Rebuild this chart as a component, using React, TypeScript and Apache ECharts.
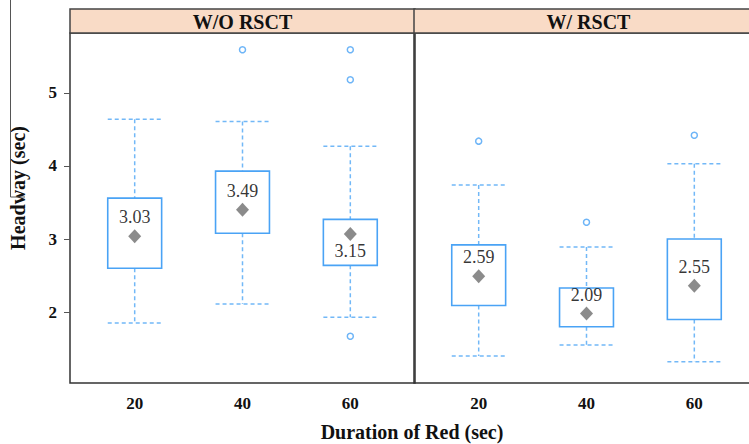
import React, { useEffect, useRef } from 'react';
import * as echarts from 'echarts';

const panels = ['W/O RSCT', 'W/ RSCT'];
const categories = ['20', '40', '60'];
const yTicks = [2, 3, 4, 5];

// W/O RSCT
const woLower = [1.85, 2.11, 1.93];
const woQ1 = [2.6, 3.08, 2.64];
const woQ3 = [3.56, 3.93, 3.27];
const woUpper = [4.64, 4.61, 4.27];
const woMean = [3.04, 3.4, 3.07];
const woMeanLabel = ['3.03', '3.49', '3.15'];
const woOutliers: [number, number][] = [[1, 5.59], [2, 5.59], [2, 5.18], [2, 1.67]];

// W/ RSCT
const wLower = [1.4, 1.55, 1.32];
const wQ1 = [2.09, 1.8, 1.9];
const wQ3 = [2.92, 2.33, 3.0];
const wUpper = [3.74, 2.89, 4.03];
const wMean = [2.49, 1.98, 2.36];
const wMeanLabel = ['2.59', '2.09', '2.55'];
const wOutliers: [number, number][] = [[0, 4.34], [1, 3.23], [2, 4.42]];

const panelData = [
  { lower: woLower, q1: woQ1, q3: woQ3, upper: woUpper, mean: woMean, label: woMeanLabel, outliers: woOutliers, below: [false, false, true] },
  { lower: wLower, q1: wQ1, q3: wQ3, upper: wUpper, mean: wMean, label: wMeanLabel, outliers: wOutliers, below: [false, false, false] },
];

const BOX = '#4aa3f5';
const WHISK = '#72b8f7';
const SERIF = '"Liberation Serif", "Times New Roman", serif';

export default function App() {
  const ref = useRef<HTMLDivElement>(null);
  useEffect(() => {
    if (!ref.current) return;
    const chart = echarts.init(ref.current, undefined, { renderer: 'svg' });
    const gridLefts = [70, 414];
    const panelW = 345;
    const top = 33;
    const plotH = 350;

    const grids = gridLefts.map((l) => ({
      left: l, top, width: panelW, height: plotH,
      outerBoundsMode: 'none', containLabel: false,
      show: true, borderColor: '#333', borderWidth: 1.5, backgroundColor: 'transparent',
    }));

    const xAxes = gridLefts.map((_, i) => ({
      type: 'value', gridIndex: i, min: 0.4, max: 3.6,
      splitLine: { show: false }, axisLine: { show: false }, axisTick: { show: false },
      axisLabel: {
        customValues: [1, 2, 3],
        formatter: (v: number) => categories[Math.round(v) - 1] ?? '',
        fontFamily: SERIF, fontWeight: 'bold', fontSize: 17, color: '#111', margin: 12,
      },
    }));

    const yAxes = gridLefts.map((_, i) => ({
      type: 'value', gridIndex: i, min: 1.03, max: 5.82,
      splitLine: { show: false }, axisLine: { show: false },
      axisTick: { show: i === 0, customValues: yTicks, length: 6, lineStyle: { color: '#555', width: 1 } },
      axisLabel: {
        show: i === 0, customValues: yTicks,
        fontFamily: SERIF, fontWeight: 'bold', fontSize: 17, color: '#111', margin: 13,
      },
    }));

    const series: any[] = [];
    panelData.forEach((p, i) => {
      series.push({
        type: 'custom', xAxisIndex: i, yAxisIndex: i,
        encode: { x: 0, y: [1, 2, 3, 4] },
        data: categories.map((_, k) => [k + 1, p.lower[k], p.q1[k], p.q3[k], p.upper[k]]),
        renderItem: (_params: any, api: any) => {
          const x = api.value(0);
          const lo = api.coord([x, api.value(1)]);
          const q1 = api.coord([x, api.value(2)]);
          const q3 = api.coord([x, api.value(3)]);
          const hi = api.coord([x, api.value(4)]);
          const w = api.size([0.5, 0])[0];
          const h = w / 2;
          const cx = lo[0];
          const dash = { stroke: WHISK, lineWidth: 1.5, lineDash: [4, 3], fill: null };
          return {
            type: 'group',
            children: [
              { type: 'line', shape: { x1: cx, y1: hi[1], x2: cx, y2: q3[1] }, style: dash },
              { type: 'line', shape: { x1: cx, y1: q1[1], x2: cx, y2: lo[1] }, style: dash },
              { type: 'line', shape: { x1: cx - h, y1: hi[1], x2: cx + h, y2: hi[1] }, style: dash },
              { type: 'line', shape: { x1: cx - h, y1: lo[1], x2: cx + h, y2: lo[1] }, style: dash },
              { type: 'rect', shape: { x: cx - h, y: q3[1], width: w, height: q1[1] - q3[1] }, style: { fill: 'none', stroke: BOX, lineWidth: 1.6 } },
            ],
          };
        },
        z: 2,
      });
      series.push({
        type: 'scatter', xAxisIndex: i, yAxisIndex: i,
        symbol: 'circle', symbolSize: 6,
        itemStyle: { color: '#fff', borderColor: BOX, borderWidth: 1.5 },
        data: p.outliers.map(([k, v]) => [k + 1, v]),
        z: 3,
      });
      series.push({
        type: 'scatter', xAxisIndex: i, yAxisIndex: i,
        symbol: 'diamond', symbolSize: [13, 14],
        itemStyle: { color: '#6e6e6e' },
        label: {
          show: true, position: 'top', distance: 3,
          fontFamily: SERIF, fontSize: 18, color: '#000',
          formatter: (prm: any) => p.label[prm.dataIndex],
        },
        data: p.mean.map((v, k) => (p.below[k]
          ? { value: [k + 1, v], label: { position: 'bottom', distance: 1 } }
          : { value: [k + 1, v] })),
        z: 4,
      });
    });

    const graphic: any[] = [];
    gridLefts.forEach((l, i) => {
      graphic.push({
        type: 'rect', shape: { x: l, y: 9, width: i === 1 ? panelW + 20 : panelW, height: 24 },
        style: { fill: '#f9dbc6', stroke: '#444', lineWidth: 1.5 }, z: 10,
      });
      graphic.push({
        type: 'text', x: l + panelW / 2 + (i === 1 ? 2 : 0), y: 22,
        style: { text: panels[i], fontFamily: SERIF, fontWeight: 'bold', fontSize: 20, fill: '#111', align: 'center', verticalAlign: 'middle' },
        z: 11,
      });
    });
    graphic.push({
      type: 'text', x: 18, y: 188, rotation: Math.PI / 2,
      style: { text: 'Headway (sec)', fontFamily: SERIF, fontWeight: 'bold', fontSize: 20, fill: '#111', align: 'center', verticalAlign: 'middle' },
    });
    graphic.push({
      type: 'text', x: 412, y: 432,
      style: { text: 'Duration of Red (sec)', fontFamily: SERIF, fontWeight: 'bold', fontSize: 20, fill: '#111', align: 'center', verticalAlign: 'middle' },
    });
    graphic.push({ type: 'line', shape: { x1: 10.5, y1: 0, x2: 10.5, y2: 197 }, style: { stroke: '#555', lineWidth: 1 } });
    graphic.push({ type: 'line', shape: { x1: 10.5, y1: 197, x2: 25, y2: 197 }, style: { stroke: '#555', lineWidth: 1 } });

    chart.setOption({
      animation: false,
      backgroundColor: '#fff',
      grid: grids,
      xAxis: xAxes,
      yAxis: yAxes,
      series,
      graphic,
    });
    return () => chart.dispose();
  }, []);
  return <div ref={ref} style={{ position: 'absolute', left: 0, top: 0, width: 749, height: 444 }} />;
}
